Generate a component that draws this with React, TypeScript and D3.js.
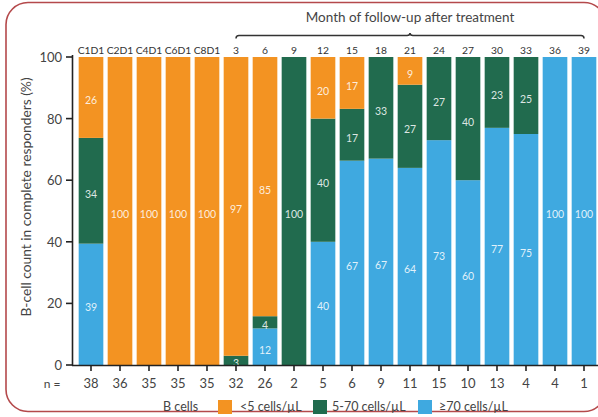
import React from "react";
import * as d3 from "d3";

const categories = ["C1D1","C2D1","C4D1","C6D1","C8D1","3","6","9","12","15","18","21","24","27","30","33","36","39"];
const highValues = [39,0,0,0,0,0,12,0,40,67,67,64,73,60,77,75,100,100]; // >=70 cells/µL
const midValues  = [34,0,0,0,0,3,4,100,40,17,33,27,27,40,23,25,0,0];   // 5-70 cells/µL
const lowValues  = [26,100,100,100,100,97,85,0,20,17,0,9,0,0,0,0,0,0];  // <5 cells/µL
const nValues = [38,36,35,35,35,32,26,2,5,6,9,11,15,10,13,4,4,1];
const yTicks = [0,20,40,60,80,100];
const seriesKeys = ["high","mid","low"];
const legendLabels = ["<5 cells/µL","5-70 cells/µL","≥70 cells/µL"];

const W = 598, H = 417;
const colors: Record<string,string> = { low: "#F39322", mid: "#216B4E", high: "#3FA9E0" };
const FONT = "Lato, 'Open Sans', sans-serif";

export default function App() {
  const rows = categories.map((c, i) => ({ cat: c, high: highValues[i], mid: midValues[i], low: lowValues[i] }));
  const stack = d3.stack<any>().keys(seriesKeys).offset(d3.stackOffsetExpand);
  const stacked = stack(rows);

  const x = d3.scaleBand<string>().domain(categories).range([76.5, 598.5]).paddingInner(0.15).paddingOuter(0.075);
  const y = d3.scaleLinear().domain([0, 1]).range([365, 57]);
  const yPct = d3.scaleLinear().domain([0, 100]).range([365, 57]);

  const cx = (c: string) => (x(c) as number) + x.bandwidth() / 2;
  const bx0 = cx("3"), bx1 = cx("39"), bmid = (bx0 + bx1) / 2;
  const by = 35.5;
  const bracket = `M${bx0},${by + 3} Q${bx0},${by} ${bx0 + 3},${by} L${bmid - 3},${by} Q${bmid},${by} ${bmid},${by - 2.5} Q${bmid},${by} ${bmid + 3},${by} L${bx1 - 3},${by} Q${bx1},${by} ${bx1},${by + 3}`;

  return (
    <svg width={W} height={H} style={{ position: "absolute", left: 0, top: 0, background: "#fff" }} fontFamily={FONT}>
      <rect x={6} y={2.5} width={600} height={409} rx={22} fill="none" stroke="#b4494b" strokeWidth={1.6} />

      {/* bars */}
      {stacked.map((s) => (
        <g key={s.key} fill={colors[s.key]}>
          {s.map((d, i) => (
            <rect key={i} x={x(categories[i])} y={y(d[1])} width={x.bandwidth()} height={Math.max(0, y(d[0]) - y(d[1]))} />
          ))}
        </g>
      ))}
      {/* segment labels */}
      {stacked.map((s) => (
        <g key={"l" + s.key} fill="#fff" fillOpacity={0.85} fontSize={10.5} textAnchor="middle">
          {s.map((d, i) => {
            const v = (rows[i] as any)[s.key];
            if (!v) return null;
            return (
              <text key={i} x={cx(categories[i])} y={(y(d[0]) + y(d[1])) / 2 + 3} dominantBaseline="central">{v}</text>
            );
          })}
        </g>
      ))}

      {/* y axis */}
      <line x1={72.5} x2={72.5} y1={55} y2={365.5} stroke="#222" strokeWidth={1.6} />
      {yTicks.map((t) => (
        <g key={t}>
          <line x1={66} x2={72.5} y1={yPct(t)} y2={yPct(t)} stroke="#222" strokeWidth={1.6} />
          <text x={62} y={yPct(t)} dominantBaseline="central" textAnchor="end" fontSize={13} fill="#444">{t}</text>
        </g>
      ))}
      <text transform={`translate(25,197) rotate(-90)`} textAnchor="middle" dominantBaseline="central" fontSize={13.8} fill="#444">B-cell count in complete responders (%)</text>

      {/* x axis */}
      <line x1={72} x2={598} y1={365.5} y2={365.5} stroke="#222" strokeWidth={1.6} />
      {categories.map((c) => (
        <line key={c} x1={cx(c)} x2={cx(c)} y1={365.5} y2={371} stroke="#222" strokeWidth={1.6} />
      ))}
      <text x={52} y={388} textAnchor="middle" fontSize={12} fill="#444">n =</text>
      {nValues.map((n, i) => (
        <text key={i} x={cx(categories[i])} y={388} textAnchor="middle" fontSize={13} fill="#444">{n}</text>
      ))}

      {/* top labels */}
      {categories.map((c) => (
        <text key={c} x={cx(c)} y={54} textAnchor="middle" fontSize={10.3} fill="#333">{c}</text>
      ))}
      <path d={bracket} fill="none" stroke="#333" strokeWidth={1.5} />
      <text x={bmid} y={22} textAnchor="middle" fontSize={13.5} fill="#444">Month of follow-up after treatment</text>

      {/* legend */}
      <text x={163} y={411} fontSize={12.5} fill="#444">B cells</text>
      {[
        { key: "low", sx: 218, tx: 240, label: legendLabels[0] },
        { key: "mid", sx: 313, tx: 332, label: legendLabels[1] },
        { key: "high", sx: 418, tx: 439, label: legendLabels[2] },
      ].map((l) => (
        <g key={l.key}>
          <rect x={l.sx} y={400} width={14} height={14} fill={colors[l.key]} />
          <text x={l.tx} y={411} fontSize={12.5} fill="#444">{l.label}</text>
        </g>
      ))}
    </svg>
  );
}
